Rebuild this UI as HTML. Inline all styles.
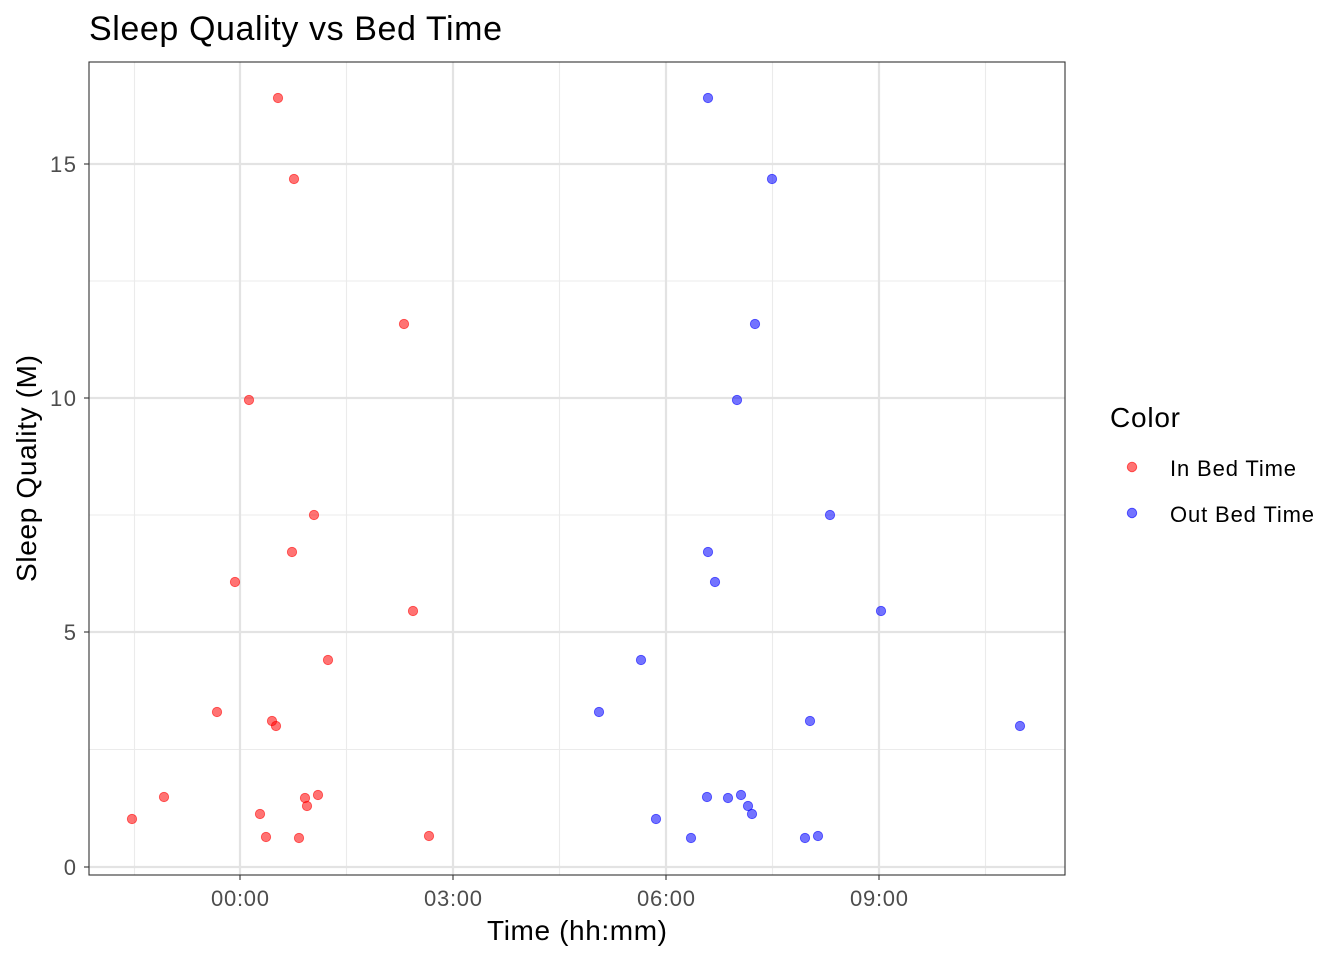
<!DOCTYPE html>
<html><head><meta charset="utf-8"><style>html,body{margin:0;padding:0;background:#fff}svg{display:block}</style></head>
<body>
<svg width="1344" height="960" xmlns="http://www.w3.org/2000/svg" font-family="Liberation Sans, Arial, sans-serif">
<rect width="1344" height="960" fill="#fff"/>
<g stroke="#ebebeb" stroke-width="1.1">
<line x1="89" x2="1065" y1="749.5" y2="749.5"/><line x1="89" x2="1065" y1="515" y2="515"/><line x1="89" x2="1065" y1="281" y2="281"/>
<line x1="134.5" x2="134.5" y1="62" y2="875"/><line x1="346.5" x2="346.5" y1="62" y2="875"/><line x1="559.5" x2="559.5" y1="62" y2="875"/><line x1="772.5" x2="772.5" y1="62" y2="875"/><line x1="985.5" x2="985.5" y1="62" y2="875"/>
</g>
<g stroke="#e3e3e3" stroke-width="2.2">
<line x1="89" x2="1065" y1="867" y2="867"/><line x1="89" x2="1065" y1="632" y2="632"/><line x1="89" x2="1065" y1="398" y2="398"/><line x1="89" x2="1065" y1="164" y2="164"/>
<line x1="240" x2="240" y1="62" y2="875"/><line x1="453" x2="453" y1="62" y2="875"/><line x1="666" x2="666" y1="62" y2="875"/><line x1="879" x2="879" y1="62" y2="875"/>
</g>
<g fill="#ff0000" fill-opacity="0.55" stroke="#ff0000" stroke-opacity="0.6" stroke-width="0.8">
<circle cx="278" cy="98" r="4.7"/><circle cx="294" cy="179" r="4.7"/><circle cx="404" cy="324" r="4.7"/><circle cx="249" cy="400" r="4.7"/><circle cx="314" cy="515" r="4.7"/><circle cx="292" cy="552" r="4.7"/><circle cx="235" cy="582" r="4.7"/><circle cx="413" cy="611" r="4.7"/><circle cx="328" cy="660" r="4.7"/><circle cx="217" cy="712" r="4.7"/><circle cx="272" cy="721" r="4.7"/><circle cx="276" cy="726" r="4.7"/><circle cx="132" cy="819" r="4.7"/><circle cx="164" cy="797" r="4.7"/><circle cx="260" cy="814" r="4.7"/><circle cx="266" cy="837" r="4.7"/><circle cx="299" cy="838" r="4.7"/><circle cx="305" cy="798" r="4.7"/><circle cx="307" cy="806" r="4.7"/><circle cx="318" cy="795" r="4.7"/><circle cx="429" cy="836" r="4.7"/>
</g>
<g fill="#0000ff" fill-opacity="0.55" stroke="#0000ff" stroke-opacity="0.6" stroke-width="0.8">
<circle cx="708" cy="98" r="4.7"/><circle cx="772" cy="179" r="4.7"/><circle cx="755" cy="324" r="4.7"/><circle cx="737" cy="400" r="4.7"/><circle cx="830" cy="515" r="4.7"/><circle cx="708" cy="552" r="4.7"/><circle cx="715" cy="582" r="4.7"/><circle cx="881" cy="611" r="4.7"/><circle cx="641" cy="660" r="4.7"/><circle cx="599" cy="712" r="4.7"/><circle cx="810" cy="721" r="4.7"/><circle cx="1020" cy="726" r="4.7"/><circle cx="656" cy="819" r="4.7"/><circle cx="707" cy="797" r="4.7"/><circle cx="728" cy="798" r="4.7"/><circle cx="741" cy="795" r="4.7"/><circle cx="748" cy="806" r="4.7"/><circle cx="752" cy="814" r="4.7"/><circle cx="691" cy="838" r="4.7"/><circle cx="805" cy="838" r="4.7"/><circle cx="818" cy="836" r="4.7"/>
</g>
<rect x="89" y="62" width="976" height="813" fill="none" stroke="#333" stroke-width="1.1"/>
<g stroke="#333" stroke-width="1.1">
<line x1="84" x2="89" y1="867" y2="867"/><line x1="84" x2="89" y1="632" y2="632"/><line x1="84" x2="89" y1="398" y2="398"/><line x1="84" x2="89" y1="164" y2="164"/>
<line x1="240" x2="240" y1="875" y2="880"/><line x1="453" x2="453" y1="875" y2="880"/><line x1="666" x2="666" y1="875" y2="880"/><line x1="879" x2="879" y1="875" y2="880"/>
</g>
<g fill="#4d4d4d" font-size="22" text-anchor="end">
<text x="76" y="875">0</text><text x="76" y="640">5</text><text x="76" y="406" textLength="26">10</text><text x="76" y="172" textLength="26">15</text>
</g>
<g fill="#4d4d4d" font-size="22" text-anchor="middle">
<text x="240" y="906" textLength="58">00:00</text><text x="453" y="906" textLength="58">03:00</text><text x="666" y="906" textLength="58">06:00</text><text x="879" y="906" textLength="58">09:00</text>
</g>
<text x="487" y="940" font-size="28" fill="#000" textLength="180">Time (hh:mm)</text>
<text transform="translate(36,582) rotate(-90)" font-size="28" fill="#000" textLength="227">Sleep Quality (M)</text>
<text x="89" y="40" font-size="34" fill="#000" textLength="413">Sleep Quality vs Bed Time</text>
<text x="1110" y="427" font-size="28" fill="#000" textLength="70">Color</text>
<circle cx="1132" cy="467" r="4.7" fill="#ff0000" fill-opacity="0.55" stroke="#ff0000" stroke-opacity="0.6"/>
<circle cx="1132" cy="513" r="4.7" fill="#0000ff" fill-opacity="0.55" stroke="#0000ff" stroke-opacity="0.6"/>
<text x="1170" y="476" font-size="22" fill="#000" textLength="126">In Bed Time</text>
<text x="1170" y="522" font-size="22" fill="#000" textLength="144">Out Bed Time</text>
</svg>
</body></html>
